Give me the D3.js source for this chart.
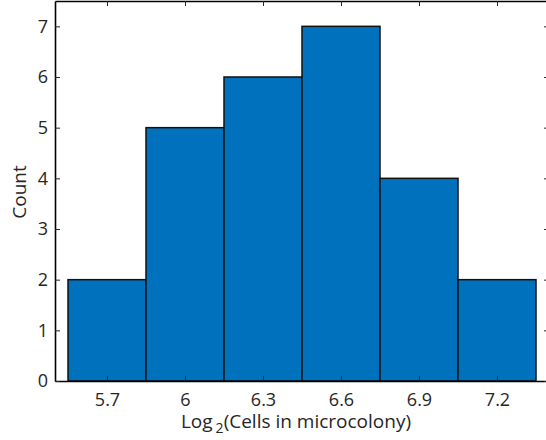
<!DOCTYPE html>
<html>
<head>
<meta charset="utf-8">
<script src="https://cdn.jsdelivr.net/npm/d3@7"></script>
<style>
  body { margin: 0; background: #fff; }
  text { font-family: "Open Sans", sans-serif; fill: #262626; }
</style>
</head>
<body>
<script>
// data
const binCenters = [5.7, 6.0, 6.3, 6.6, 6.9, 7.2];
const counts = [2, 5, 6, 7, 4, 2];
const xTickLabels = ["5.7", "6", "6.3", "6.6", "6.9", "7.2"];
const yTicks = [0, 1, 2, 3, 4, 5, 6, 7];
const binWidth = 0.3;

const width = 546, height = 440;
const plotLeft = 55, plotRight = 549, plotTop = 1, plotBottom = 381;

const svg = d3.select("body").append("svg")
  .attr("width", width)
  .attr("height", height);

const x = d3.scaleLinear().domain([5.5, 7.4]).range([plotLeft, plotRight]);
const y = d3.scaleLinear().domain([0, 7.5]).range([plotBottom, plotTop]);

// bars
svg.append("g").selectAll("rect")
  .data(binCenters)
  .join("rect")
  .attr("x", d => x(d - binWidth / 2))
  .attr("width", d => x(d + binWidth / 2) - x(d - binWidth / 2))
  .attr("y", (d, i) => y(counts[i]))
  .attr("height", (d, i) => y(0) - y(counts[i]))
  .attr("fill", "#0072bd")
  .attr("stroke", "#111")
  .attr("stroke-width", 1.5);

// axes
const tickLen = 5;
const xAxis = d3.axisBottom(x).tickValues(binCenters)
  .tickFormat((d, i) => xTickLabels[i])
  .tickSizeInner(-tickLen).tickSizeOuter(0).tickPadding(12);
svg.append("g").attr("transform", `translate(0,${plotBottom})`).call(xAxis);

const yAxis = d3.axisLeft(y).tickValues(yTicks)
  .tickFormat(d3.format("d"))
  .tickSizeInner(-tickLen).tickSizeOuter(0).tickPadding(7);
svg.append("g").attr("transform", `translate(${plotLeft},0)`).call(yAxis);

// mirror ticks top / right
svg.append("g").attr("transform", `translate(0,${plotTop})`)
  .call(d3.axisTop(x).tickValues(binCenters).tickFormat("").tickSizeInner(-tickLen).tickSizeOuter(0));
svg.append("g").attr("transform", `translate(${plotRight},0)`)
  .call(d3.axisRight(y).tickValues(yTicks).tickFormat("").tickSizeInner(-tickLen).tickSizeOuter(0));

svg.selectAll(".domain").attr("stroke", "#000").attr("stroke-width", 1.6);
svg.selectAll(".tick line").attr("stroke", "#262626").attr("stroke-width", 1);
svg.selectAll(".tick text")
  .style("font-family", "'Open Sans', sans-serif")
  .style("font-size", "18px")
  .attr("fill", "#262626");

// axis labels
const xl = svg.append("text")
  .attr("x", 296).attr("y", 428)
  .attr("text-anchor", "middle")
  .style("font-size", "19px");
xl.append("tspan").text("Log");
xl.append("tspan").attr("dx", 3).attr("dy", 5).style("font-size", "14px").text("2");
xl.append("tspan").attr("dy", -5).text("(Cells in microcolony)");

svg.append("text")
  .attr("transform", `translate(26,192) rotate(-90)`)
  .attr("text-anchor", "middle")
  .style("font-size", "19px")
  .text("Count");
</script>
</body>
</html>
